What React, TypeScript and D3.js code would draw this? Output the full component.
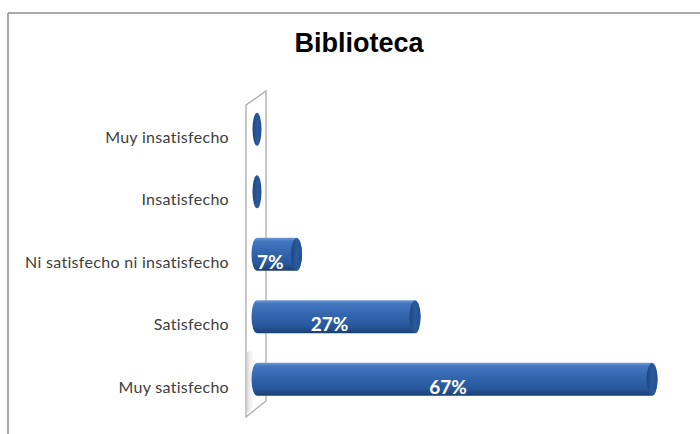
import React from "react";
import * as d3 from "d3";

const categories = [
  "Muy insatisfecho",
  "Insatisfecho",
  "Ni satisfecho ni insatisfecho",
  "Satisfecho",
  "Muy satisfecho",
];
const values = [0, 0, 6.67, 26.67, 66.67];
const valueLabels = ["", "", "7%", "27%", "67%"];
const title = "Biblioteca";

const W = 700;
const H = 434;

export default function App() {
  const x = d3.scaleLinear().domain([0, 100]).range([257, 849.5]);
  const y = d3.scalePoint<string>().domain(categories).range([98, 410.5]).padding(0.5);
  const rx = 5.5;
  const ry = 16.5;
  const dx = -6.5; // front-plane offset for labels
  const dy = 7;

  const wall = d3.path();
  wall.moveTo(246, 105);
  wall.lineTo(266, 91);
  wall.lineTo(266, 401);
  wall.lineTo(246, 417);
  wall.closePath();

  return (
    <svg
      width={W}
      height={H}
      style={{ position: "absolute", left: 0, top: 0, background: "#fff" }}
    >
      <defs>
        <linearGradient id="body" x1="0" y1="0" x2="0" y2="1">
          <stop offset="0%" stopColor="#6f9bd6" />
          <stop offset="10%" stopColor="#4477bf" />
          <stop offset="45%" stopColor="#3265ae" />
          <stop offset="80%" stopColor="#28569a" />
          <stop offset="100%" stopColor="#1b3f74" />
        </linearGradient>
        <linearGradient id="cap" x1="0" y1="0" x2="1" y2="0">
          <stop offset="0%" stopColor="#1e4680" />
          <stop offset="50%" stopColor="#2a5a9c" />
          <stop offset="100%" stopColor="#24508e" />
        </linearGradient>
        <linearGradient id="shadow" x1="0" y1="0" x2="1" y2="0">
          <stop offset="0%" stopColor="#cfcfcf" stopOpacity={0.8} />
          <stop offset="100%" stopColor="#ececec" stopOpacity={0.2} />
        </linearGradient>
      </defs>

      {/* chart area border */}
      <line x1={8} y1={13} x2={W} y2={13} stroke="#8c8c8c" strokeWidth={1.5} />
      <line x1={8} y1={13} x2={8} y2={H} stroke="#8c8c8c" strokeWidth={1.5} />

      {/* title */}
      <text
        x={359}
        y={52}
        textAnchor="middle"
        fontFamily="Liberation Sans, Arial, sans-serif"
        fontWeight="bold"
        fontSize={27}
        fill="#000"
      >
        {title}
      </text>

      {/* 3D wall */}
      <path d={wall.toString()} fill="#fff" stroke="#a6a6a6" strokeWidth={1.2} />
      <path d="M247,352 L253,350 L253,408 L247,413 Z" fill="url(#shadow)" />

      {/* category labels */}
      {categories.map((c) => (
        <text
          key={c}
          x={229}
          y={(y(c) as number) + dy}
          textAnchor="end"
          dominantBaseline="central"
          fontFamily="Lato, 'Open Sans', sans-serif"
          fontSize={16}
          letterSpacing={0.3}
          fill="#404040"
        >
          {c}
        </text>
      ))}

      {/* cylinders */}
      {categories.map((c, i) => {
        const cy = y(c) as number;
        const xl = x(0);
        const xr = x(values[i]);
        const yt = cy - ry;
        const yb = cy + ry;
        if (values[i] === 0) {
          return (
            <ellipse key={c} cx={xl} cy={cy} rx={rx - 1} ry={ry} fill="url(#cap)" />
          );
        }
        const d = `M${xl},${yt} L${xr},${yt} A${rx},${ry} 0 0 1 ${xr},${yb} L${xl},${yb} A${rx},${ry} 0 0 1 ${xl},${yt} Z`;
        const mid = (xl - rx + xr + rx) / 2 + dx;
        return (
          <g key={c}>
            <path d={d} fill="url(#body)" />
            <ellipse cx={xr} cy={cy} rx={rx} ry={ry - 0.5} fill="url(#cap)" />
            <text
              x={mid}
              y={cy + dy}
              textAnchor="middle"
              dominantBaseline="central"
              fontFamily="Lato, 'Open Sans', sans-serif"
              fontWeight="bold"
              fontSize={19}
              fill="#ffffff"
            >
              {valueLabels[i]}
            </text>
          </g>
        );
      })}
    </svg>
  );
}
